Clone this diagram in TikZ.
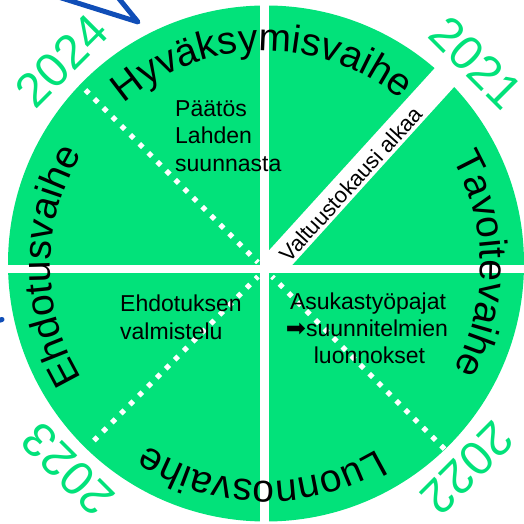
\documentclass[tikz,border=0pt]{standalone}
\usepackage{fontspec}
\setmainfont{Liberation Sans}
\newfontfamily\symfont{DejaVu Sans}
\usetikzlibrary{decorations.text}
\definecolor{wgreen}{RGB}{2,226,122}
\definecolor{wblue}{RGB}{16,78,183}
\begin{document}
\begin{tikzpicture}[x=1pt,y=1pt,
  phase/.style={decorate, decoration={text along path, text align=center, text={|\fontsize{39}{39}\selectfont|#1}}},
  year/.style={text=wgreen, font=\fontsize{48}{48}\selectfont, inner sep=0pt},
  note/.style={font=\fontsize{23}{27.5}\selectfont, inner sep=0pt},
  dots/.style={white, line width=5pt, dash pattern=on 5pt off 7.7pt},
  bluestroke/.style={wblue, line width=5pt, line join=round, line cap=round}
]
\useasboundingbox (0,0) rectangle (524,524);
\clip (0,0) rectangle (524,524);
% disk
\fill[wgreen] (266,260.5) circle (258);
% gaps
\fill[white] (260,-5) rectangle (269,530);
\fill[white] (-5,251) rectangle (530,259);
% NE band
\begin{scope}
\clip (269,259) rectangle (530,530);
\draw[white, line width=27pt] (256.6,239.9) -- (485.4,491.5);
\end{scope}
% dotted diagonals
\draw[dots, shift={(265,254.5)}] (135:254) -- (135:10);
\draw[dots, shift={(265,254.5)}] (-45:254) -- (-45:10);
\draw[dots, shift={(265,254.5)}] (-135:242) -- (-135:10);
% phase names
\path[phase=Hyväksymisvaihe, shift={(265.5,258)}] (171:215) arc[start angle=171, end angle=11, radius=215];
\path[phase=Tavoitevaihe, shift={(265.5,258)}] (80.5:215) arc[start angle=80.5, end angle=-79.5, radius=215];
\path[phase=Luonnosvaihe, shift={(265.5,258)}] (-11:215) arc[start angle=-11, end angle=-171, radius=215];
\path[phase=Ehdotusvaihe, shift={(265.5,258)}] (260:215) arc[start angle=260, end angle=100, radius=215];
% years
\node[year, rotate=45] (y24) at (62,463) {2024};
\node[year, rotate=-45] (y21) at (476,461) {2021};
\node[year, rotate=-135] (y22) at (467,56) {2022};
\node[year, rotate=135] (y23) at (68,55) {2023};
% notes
\node[note, anchor=base west] (p1) at (175,407.5) {Päätös};
\node[note, anchor=base west] (p2) at (175,380) {Lahden};
\node[note, anchor=base west] (p3) at (175,352.5) {suunnasta};
\node[note, anchor=base west] (e1) at (120,212) {Ehdotuksen};
\node[note, anchor=base west] (e2) at (120,184) {valmistelu};
\node[note, anchor=base] (a1) at (368,214.5) {Asukastyöpajat};
\node[note, anchor=base] (a2) at (367,187) {{\symfont\fontsize{24}{24}\selectfont ➡}suunnitelmien};
\node[note, anchor=base] (a3) at (369.5,160) {luonnokset};
\node[note, rotate=47.7, font=\fontsize{22}{22}\selectfont] (v) at (351,340) {Valtuustokausi alkaa};
% blue fragments
\draw[bluestroke] (52,529) -- (138,502) -- (116,529);
\draw[bluestroke] (-3,203) -- (2,204.5);
\end{tikzpicture}
\end{document}
